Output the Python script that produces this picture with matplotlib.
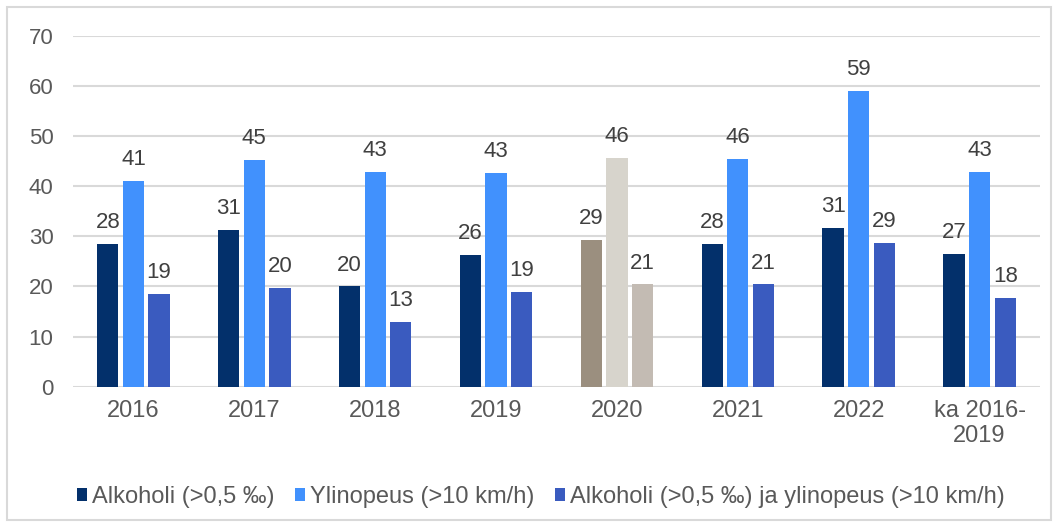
import matplotlib.pyplot as plt
import numpy as np
from matplotlib.patches import Rectangle

plt.rcParams['font.family'] = ['Liberation Sans', 'DejaVu Sans']

# data
categories = ['2016', '2017', '2018', '2019', '2020', '2021', '2022', 'ka 2016-\n2019']
alkoholi = [28.5, 31.3, 20.0, 26.3, 29.3, 28.5, 31.6, 26.5]
ylinopeus = [41.1, 45.2, 42.9, 42.6, 45.7, 45.4, 59.1, 42.9]
molemmat = [18.6, 19.8, 12.9, 18.9, 20.4, 20.4, 28.6, 17.7]
alkoholi_lbl = ['28', '31', '20', '26', '29', '28', '31', '27']
ylinopeus_lbl = ['41', '45', '43', '43', '46', '46', '59', '43']
molemmat_lbl = ['19', '20', '13', '19', '21', '21', '29', '18']
series_names = ['Alkoholi (>0,5 \u2030)', 'Ylinopeus (>10 km/h)',
                'Alkoholi (>0,5 \u2030) ja ylinopeus (>10 km/h)']

COLORS = ['#03306b', '#4191fd', '#3a5bbf']
COLORS_2020 = ['#9b8f7f', '#d7d4cc', '#c3bbb3']

fig = plt.figure(figsize=(10.59, 5.26), dpi=100)
ax = fig.add_axes([73/1059, 139.3/526, 967/1059, 350.7/526])

x = np.arange(len(categories))
w = 0.175
step = 0.212
values = [alkoholi, ylinopeus, molemmat]
labels = [alkoholi_lbl, ylinopeus_lbl, molemmat_lbl]
for i in range(3):
	cols = [COLORS_2020[i] if c == '2020' else COLORS[i] for c in categories]
	bars = ax.bar(x + (i-1)*step, values[i], width=w, color=cols, label=series_names[i], zorder=3)
	for b, t in zip(bars, labels[i]):
		ax.annotate(t, (b.get_x() + b.get_width()/2, b.get_height()),
			xytext=(0, 11.5), textcoords='offset points',
			ha='center', va='baseline', fontsize=16, color='#404040')

ax.set_xlim(-0.5, len(categories) - 0.5)
ax.set_ylim(0, 70)
ax.set_yticks(range(0, 71, 10))
ax.set_xticks(x)
ax.set_xticklabels(categories, fontsize=17, color='#595959')
ax.tick_params(axis='y', labelsize=16, labelcolor='#595959', length=0, pad=14)
ax.tick_params(axis='x', length=0, pad=9.5)
ax.grid(axis='y', color='#d9d9d9', linewidth=1.5, zorder=0)
for s in ax.spines.values():
	s.set_visible(False)

leg = ax.legend(loc='center left', bbox_to_anchor=(0.004, -0.314), ncol=3, frameon=False,
	fontsize=17, handlelength=0.45, handleheight=0.45, handletextpad=0.2,
	columnspacing=0.85, borderaxespad=0, borderpad=0)
for t in leg.get_texts():
	t.set_color('#595959')

fig.patches.append(Rectangle((7/1059, 6/526), 1044/1059, 513/526, transform=fig.transFigure,
	fill=False, edgecolor='#d9d9d9', linewidth=1.5))

fig.savefig('out.png', dpi=100)
